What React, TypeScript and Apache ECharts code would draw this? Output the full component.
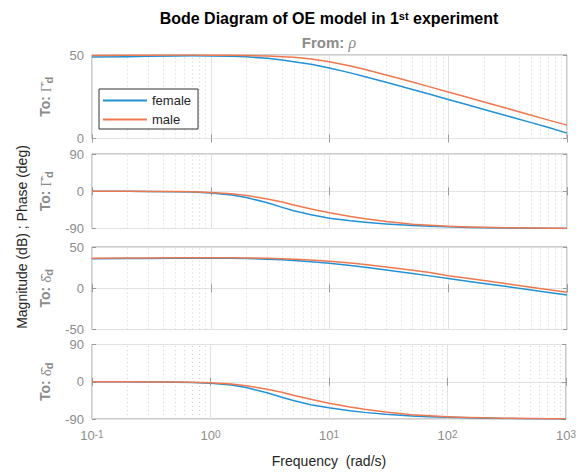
import React, { useEffect, useRef } from "react";
import * as echarts from "echarts";

// Frequency samples (rad/s)
const FREQ = [0.1, 0.2, 0.3, 0.5, 0.7, 1, 1.5, 2, 3, 4, 5, 7, 10, 15, 20, 30, 50, 70, 100, 150, 200, 300, 500, 700, 1000];

// To: Gamma_d magnitude (dB)
const MAG_G_FEMALE = [48.8, 49.0, 49.2, 49.4, 49.5, 49.4, 49.2, 48.9, 48.0, 47.0, 46.0, 44.4, 42.2, 39.3, 37.0, 33.7, 29.4, 26.5, 23.4, 19.9, 17.4, 13.9, 9.5, 6.6, 3.2];
const MAG_G_MALE = [49.7, 49.8, 49.9, 50.0, 50.0, 49.9, 49.8, 49.7, 49.4, 49.0, 48.6, 47.6, 46.0, 43.4, 41.3, 38.0, 33.8, 30.9, 27.9, 24.4, 21.9, 18.4, 13.9, 11.0, 8.0];
// To: Gamma_d phase (deg)
const PH_G_FEMALE = [0, -0.3, -0.5, -1, -2, -4, -9, -15, -28, -39, -47, -57, -65, -71.5, -75, -79, -83, -84.8, -86, -87.3, -88, -88.7, -89.2, -89.5, -89.8];
const PH_G_MALE = [0, -0.2, -0.4, -0.8, -1.5, -3, -6, -10, -18.5, -26, -33, -43, -52, -61, -66.5, -73, -79.5, -82.3, -84.5, -86.2, -87.2, -88.2, -89, -89.4, -89.6];
// To: delta_d magnitude (dB)
const MAG_D_FEMALE = [35.9, 36.1, 36.2, 36.4, 36.5, 36.5, 36.3, 36.0, 35.3, 34.5, 33.7, 32.2, 30.3, 27.6, 25.5, 22.2, 17.9, 15.0, 11.8, 8.3, 5.8, 2.3, -2.2, -5.1, -8.3];
const MAG_D_MALE = [36.5, 36.6, 36.7, 36.9, 37.0, 37.0, 36.9, 36.8, 36.4, 35.9, 35.3, 34.2, 32.8, 30.6, 28.8, 25.8, 21.8, 19.0, 15.2, 11.8, 9.3, 5.8, 1.3, -1.7, -4.9];
// To: delta_d phase (deg)
const PH_D_FEMALE = [0, -0.3, -0.5, -1, -1.8, -3.5, -8, -14, -26.5, -37.5, -45.5, -55.5, -63, -70, -74, -78.5, -82.5, -84.5, -86, -87.2, -88, -88.7, -89.2, -89.5, -89.8];
const PH_D_MALE = [0, -0.2, -0.4, -0.8, -1.4, -2.5, -5.5, -9.5, -18, -25.5, -32.5, -42.5, -52, -61, -66.5, -73, -79.5, -82.3, -84.5, -86.2, -87.2, -88.2, -89, -89.4, -89.6];

const SERIES_NAMES = ["female", "male"];
const PANEL_DATA = [
  [MAG_G_FEMALE, MAG_G_MALE],
  [PH_G_FEMALE, PH_G_MALE],
  [MAG_D_FEMALE, MAG_D_MALE],
  [PH_D_FEMALE, PH_D_MALE],
];
const Y_RANGES = [
  { min: 0, max: 50, interval: 50 },
  { min: -90, max: 90, interval: 90 },
  { min: -50, max: 50, interval: 50 },
  { min: -90, max: 90, interval: 90 },
];
const MINOR_TICKS = [0.2, 0.3, 0.4, 0.5, 0.6, 0.7, 0.8, 0.9, 2, 3, 4, 5, 6, 7, 8, 9, 20, 30, 40, 50, 60, 70, 80, 90, 200, 300, 400, 500, 600, 700, 800, 900];
const PANEL_LABELS = ["Γ̂", "Γ̂", "δ̂", "δ̂"];

const COLORS = ["#2391d3", "#ee7850"];
const GRIDS = [
  { top: 55, height: 83.5 },
  { top: 154, height: 74.5 },
  { top: 247, height: 82.5 },
  { top: 344.5, height: 74.5 },
];
const SANS = "Liberation Sans, Arial, Helvetica, sans-serif";
const SERIF = "Liberation Serif, Times New Roman, serif";
const GRAY = "#8c8c8c";

export default function App() {
  const ref = useRef<HTMLDivElement>(null);
  useEffect(() => {
    if (!ref.current) return;
    const chart = echarts.init(ref.current, undefined, { renderer: "svg" });
    const grid = GRIDS.map((g) => ({
      left: 92,
      right: 12,
      top: g.top,
      height: g.height,
      show: true,
      borderColor: "#999",
      borderWidth: 1,
      backgroundColor: "transparent",
    }));
    const xAxis: any[] = [];
    const yAxis: any[] = [];
    GRIDS.forEach((_, g) => {
      ["bottom", "top"].forEach((pos) => {
        xAxis.push({
          type: "log",
          logBase: 10,
          min: 0.1,
          max: 1000,
          gridIndex: g,
          position: pos,
          axisLine: { show: false },
          axisTick: { show: true, inside: true, length: 4, lineStyle: { color: "#999" } },
          axisLabel: {
            show: g === 3 && pos === "bottom",
            margin: 10,
            formatter: (v: number) => `{b|10}{s|${Math.round(Math.log10(v))}}`,
            rich: {
              b: { fontSize: 13, fontFamily: SANS, color: GRAY, lineHeight: 13, verticalAlign: "bottom" },
              s: { fontSize: 10, fontFamily: SANS, color: GRAY, lineHeight: 10, padding: [0, 0, 10, 0], verticalAlign: "top" },
            },
          },
          splitLine: { show: pos === "bottom", lineStyle: { color: "#e2e2e2", width: 1 } },
        });
      });
      ["left", "right"].forEach((pos) => {
        yAxis.push({
          type: "value",
          gridIndex: g,
          position: pos,
          min: Y_RANGES[g].min,
          max: Y_RANGES[g].max,
          interval: Y_RANGES[g].interval,
          axisLine: { show: false },
          axisTick: { show: true, inside: true, length: 4, lineStyle: { color: "#999" } },
          axisLabel: { show: pos === "left", color: GRAY, fontSize: 13, fontFamily: SANS, margin: 8 },
          splitLine: { show: pos === "left", lineStyle: { color: "#e2e2e2", width: 1 } },
        });
      });
    });
    const series: any[] = [];
    PANEL_DATA.forEach((pair, g) => {
      pair.forEach((vals, k) => {
        series.push({
          type: "line",
          name: SERIES_NAMES[k],
          xAxisIndex: g * 2,
          yAxisIndex: g * 2,
          data: FREQ.map((f, i) => [f, vals[i]]),
          showSymbol: false,
          symbol: "none",
          smooth: false,
          color: COLORS[k],
          lineStyle: { color: COLORS[k], width: 1.5, join: "round" },
          z: 3,
          markLine:
            k === 0
              ? {
                  silent: true,
                  z: 1,
                  symbol: ["none", "none"],
                  label: { show: false },
                  lineStyle: { type: [1, 3], color: "#d2d2d2", width: 1 },
                  emphasis: { disabled: true },
                  data: MINOR_TICKS.map((v) => ({ xAxis: v })),
                }
              : undefined,
        });
      });
    });

    const graphic: any[] = [
      {
        type: "text",
        x: 329,
        y: 18,
        style: {
          text: "{t|Bode Diagram of OE model in 1}{u|st}{t| experiment}",
          align: "center",
          verticalAlign: "middle",
          textAlign: "center",
          textVerticalAlign: "middle",
          fill: "#000",
          rich: {
            t: { fontSize: 16, fontWeight: "bold", fontFamily: SANS, fill: "#000", color: "#000", lineHeight: 16, verticalAlign: "bottom" },
            u: { fontSize: 11, fontWeight: "bold", fontFamily: SANS, fill: "#000", color: "#000", lineHeight: 11, padding: [0, 0, 10, 0], verticalAlign: "top" },
          },
        },
      },
      {
        type: "text",
        x: 329,
        y: 42,
        style: {
          text: "{a|From: }{r|ρ}",
          align: "center",
          verticalAlign: "middle",
          textAlign: "center",
          textVerticalAlign: "middle",
          fill: GRAY,
          rich: {
            a: { fontSize: 15, fontWeight: "bold", fontFamily: SANS, fill: GRAY, color: GRAY },
            r: { fontSize: 16, fontStyle: "italic", fontFamily: SERIF, fill: GRAY, color: GRAY },
          },
        },
      },
      {
        type: "text",
        x: 22,
        y: 237,
        rotation: Math.PI / 2,
        style: {
          text: "Magnitude (dB) ; Phase (deg)",
          align: "center",
          verticalAlign: "middle",
          textAlign: "center",
          textVerticalAlign: "middle",
          fill: "#262626",
          fontSize: 14,
          fontFamily: SANS,
        },
      },
      {
        type: "text",
        x: 329,
        y: 461,
        style: {
          text: "Frequency  (rad/s)",
          align: "center",
          verticalAlign: "middle",
          textAlign: "center",
          textVerticalAlign: "middle",
          fill: "#262626",
          fontSize: 14,
          fontFamily: SANS,
        },
      },
    ];
    GRIDS.forEach((g, i) => {
      graphic.push({
        type: "text",
        x: 46,
        y: g.top + g.height / 2,
        rotation: Math.PI / 2,
        style: {
          text: `{a|To: }{g|${PANEL_LABELS[i]}}{s|d}`,
          align: "center",
          verticalAlign: "middle",
          textAlign: "center",
          textVerticalAlign: "middle",
          fill: GRAY,
          rich: {
            a: { fontSize: 14, fontWeight: "bold", fontFamily: SANS, fill: GRAY, color: GRAY, lineHeight: 16, verticalAlign: "top" },
            g: { fontSize: 15, fontFamily: SERIF, fill: GRAY, color: GRAY, lineHeight: 16, verticalAlign: "top" },
            s: { fontSize: 11, fontWeight: "bold", fontFamily: SANS, fill: GRAY, color: GRAY, lineHeight: 11, padding: [6, 0, 0, 0], verticalAlign: "bottom" },
          },
        },
      });
    });

    chart.setOption({
      animation: false,
      backgroundColor: "#fff",
      grid,
      xAxis,
      yAxis,
      series,
      graphic,
      legend: {
        data: SERIES_NAMES,
        orient: "vertical",
        left: 99,
        top: 89,
        icon: "rect",
        itemWidth: 44,
        itemHeight: 2,
        itemGap: 6,
        itemStyle: { borderWidth: 0 },
        padding: [5, 7, 3, 4],
        backgroundColor: "#fff",
        borderColor: "#333",
        borderWidth: 1,
        borderRadius: 0,
        selectedMode: false,
        textStyle: { fontSize: 13, fontFamily: SANS, color: "#262626", padding: [0, 0, 0, 0] },
        itemTextGap: 5,
      },
    });
    return () => chart.dispose();
  }, []);
  return <div ref={ref} style={{ position: "fixed", left: 0, top: 0, width: 579, height: 472 }} />;
}
